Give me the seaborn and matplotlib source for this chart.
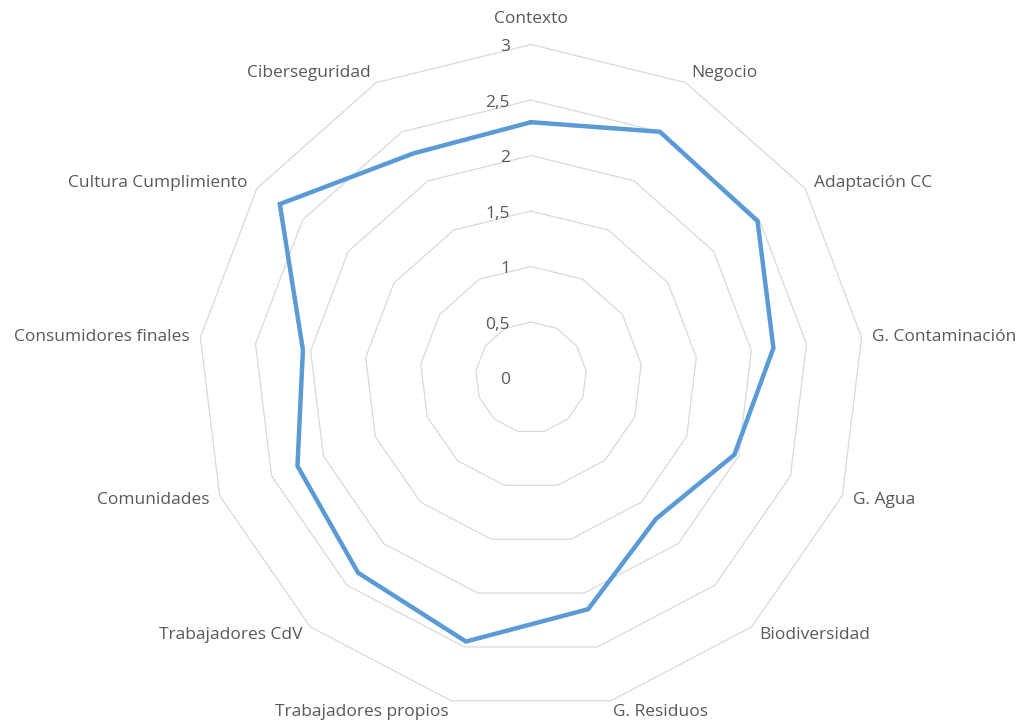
import numpy as np
import matplotlib
matplotlib.use("Agg")
import matplotlib.pyplot as plt
import seaborn as sns

categories = ["Contexto", "Negocio", "Adaptación CC", "G. Contaminación", "G. Agua",
              "Biodiversidad", "G. Residuos", "Trabajadores propios", "Trabajadores CdV",
              "Comunidades", "Consumidores finales", "Cultura Cumplimiento", "Ciberseguridad"]
values = [2.30, 2.50, 2.48, 2.20, 1.96, 1.70, 2.15, 2.45, 2.35, 2.25, 2.07, 2.75, 2.28]
levels = [0, 0.5, 1, 1.5, 2, 2.5, 3]
level_labels = ["0", "0,5", "1", "1,5", "2", "2,5", "3"]

sns.set_style("white")
plt.rcParams["font.family"] = ["Open Sans", "DejaVu Sans"]

W, H = 1023, 723
fig = plt.figure(figsize=(W / 100, H / 100), dpi=100)
cx, cy, R = 531, 377.5, 333
ax = fig.add_axes([(cx - R) / W, (H - cy - R) / H, 2 * R / W, 2 * R / H], projection="polar")
ax.set_theta_zero_location("N")
ax.set_theta_direction(-1)
ax.set_ylim(0, 3)
ax.grid(False)
ax.spines["polar"].set_visible(False)
ax.set_xticks([])
ax.set_yticks([])
ax.patch.set_alpha(0)

n = len(categories)
theta = np.arange(n) * 2 * np.pi / n
theta_c = np.append(theta, theta[0])

grid_color = "#D9D9D9"
for lv in levels[1:]:
    ax.plot(theta_c, [lv] * (n + 1), color=grid_color, lw=0.9, clip_on=False, zorder=1)

vals_c = values + [values[0]]
sns.lineplot(x=theta_c, y=vals_c, ax=ax, sort=False, estimator=None,
             color="#5B9BD5", linewidth=3.2, zorder=3)
ax.lines[-1].set_clip_on(False)
ax.lines[-1].set_solid_joinstyle("miter")

txt_color = "#595959"
fs = 12.5
for lv, lab in zip(levels, level_labels):
    ax.annotate(lab, xy=(0, lv), xytext=(-21, -2.5), textcoords="offset pixels",
                ha="right", va="center", fontsize=fs, color=txt_color, annotation_clip=False)

for t, lab in zip(theta, categories):
    s, c = np.sin(t), np.cos(t)
    ha = "left" if s > 0.1 else ("right" if s < -0.1 else "center")
    dx = 11 * s
    dy = 26 if abs(s) < 0.05 else 11 * c - 0.5
    ax.annotate(lab, xy=(t, 3), xytext=(dx, dy), textcoords="offset pixels",
                ha=ha, va="center", fontsize=fs, color=txt_color, annotation_clip=False)

fig.savefig("out.png", dpi=100, facecolor="white")
